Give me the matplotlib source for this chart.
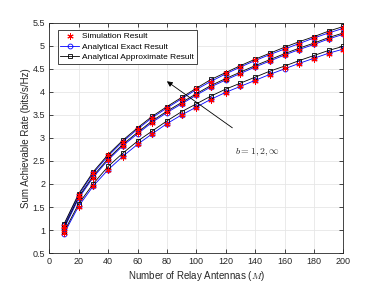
import matplotlib
matplotlib.use("Agg")
import matplotlib.pyplot as plt
import numpy as np

plt.rcParams['font.family'] = 'Liberation Sans'
plt.rcParams['mathtext.fontset'] = 'cm'

M = np.arange(10, 201, 10)

# b = inf (top), b = 2 (middle), b = 1 (bottom)
approx_inf = [1.13, 1.79, 2.27, 2.64, 2.95, 3.22, 3.47, 3.68, 3.88, 4.08,
              4.27, 4.42, 4.57, 4.71, 4.84, 4.97, 5.09, 5.20, 5.32, 5.42]
exact_inf = [1.10, 1.76, 2.24, 2.61, 2.92, 3.19, 3.44, 3.65, 3.85, 4.05,
             4.23, 4.39, 4.54, 4.68, 4.81, 4.93, 5.05, 5.17, 5.28, 5.38]
sim_inf = [1.08, 1.77, 2.23, 2.62, 2.91, 3.20, 3.43, 3.66, 3.84, 4.06,
           4.22, 4.40, 4.53, 4.69, 4.80, 4.94, 5.04, 5.18, 5.27, 5.39]

approx_2 = [1.06, 1.72, 2.18, 2.55, 2.86, 3.12, 3.37, 3.58, 3.77, 3.96,
            4.14, 4.29, 4.43, 4.57, 4.70, 4.83, 4.95, 5.06, 5.18, 5.28]
exact_2 = [1.03, 1.69, 2.15, 2.52, 2.83, 3.09, 3.34, 3.55, 3.74, 3.93,
           4.11, 4.26, 4.40, 4.54, 4.67, 4.80, 4.92, 5.03, 5.15, 5.25]
sim_2 = [1.02, 1.70, 2.14, 2.53, 2.82, 3.10, 3.32, 3.56, 3.73, 3.94,
         4.10, 4.27, 4.38, 4.55, 4.66, 4.81, 4.90, 5.04, 5.14, 5.26]

approx_1 = [0.96, 1.57, 2.01, 2.38, 2.67, 2.93, 3.15, 3.37, 3.57, 3.74,
            3.91, 4.06, 4.19, 4.32, 4.45, 4.56, 4.68, 4.79, 4.90, 4.99]
exact_1 = [0.92, 1.52, 1.96, 2.31, 2.60, 2.86, 3.09, 3.31, 3.50, 3.67,
           3.84, 3.99, 4.12, 4.25, 4.38, 4.50, 4.62, 4.73, 4.84, 4.93]
sim_1 = [0.93, 1.51, 1.95, 2.30, 2.59, 2.87, 3.08, 3.30, 3.49, 3.66,
         3.83, 3.98, 4.13, 4.24, 4.37, 4.51, 4.61, 4.72, 4.83, 4.92]

fig = plt.figure(figsize=(3.79, 2.85), dpi=100)
ax = fig.add_axes([0.130, 0.112, 0.776, 0.808])

edge = '#262626'
groups = [(sim_inf, exact_inf, approx_inf), (sim_2, exact_2, approx_2), (sim_1, exact_1, approx_1)]
for i, (s, e, a) in enumerate(groups):
    ax.plot(M, e, color='blue', lw=0.6, marker='o', ms=3.5, mfc='none', mew=0.6,
            label='Analytical Exact Result' if i == 0 else None, zorder=3)
    ax.plot(M, a, color='black', lw=0.6, marker='s', ms=3.5, mfc='none', mew=0.6,
            label='Analytical Approximate Result' if i == 0 else None, zorder=3)
    ax.plot(M, s, ls='none', color='red', marker=(6, 2, 0), ms=4.5, mew=0.7,
            label='Simulation Result' if i == 0 else None, zorder=4)

handles, labels = ax.get_legend_handles_labels()
order = [2, 0, 1]
leg = ax.legend([handles[k] for k in order], [labels[k] for k in order],
                loc='upper left', bbox_to_anchor=(0.028, 0.97), fontsize=6,
                fancybox=False, framealpha=1, edgecolor=edge, borderpad=0.35,
                handlelength=2.2, labelspacing=0.3, handletextpad=0.4,
                borderaxespad=0)
leg.get_frame().set_linewidth(0.6)

ax.annotate('', xy=(80, 4.23), xytext=(124.5, 3.22),
            arrowprops=dict(arrowstyle='-|>', color='black', lw=0.6,
                            mutation_scale=8, shrinkA=0, shrinkB=0))
ax.text(141.5, 2.69, r'$b=1,2,\infty$', fontsize=7, ha='center', va='center', color=edge)

ax.set_xlim(0, 200)
ax.set_ylim(0.5, 5.5)
ax.set_xticks(np.arange(0, 201, 20))
ax.set_yticks(np.arange(0.5, 5.51, 0.5))
ax.set_yticklabels(['0.5', '1', '1.5', '2', '2.5', '3', '3.5', '4', '4.5', '5', '5.5'])
ax.grid(True, color='#e6e6e6', lw=0.6)
ax.set_axisbelow(True)
ax.tick_params(direction='in', length=3, width=0.6, labelsize=6.5, colors=edge,
               top=True, right=True, pad=3)
for sp in ax.spines.values():
    sp.set_linewidth(0.6)
    sp.set_color(edge)

ax.set_xlabel('Number of Relay Antennas ($M$)', fontsize=7, color=edge, labelpad=2)
ax.set_ylabel('Sum Achievable Rate (bits/s/Hz)', fontsize=7, color=edge, labelpad=1)

fig.savefig('out.png', dpi=100)
